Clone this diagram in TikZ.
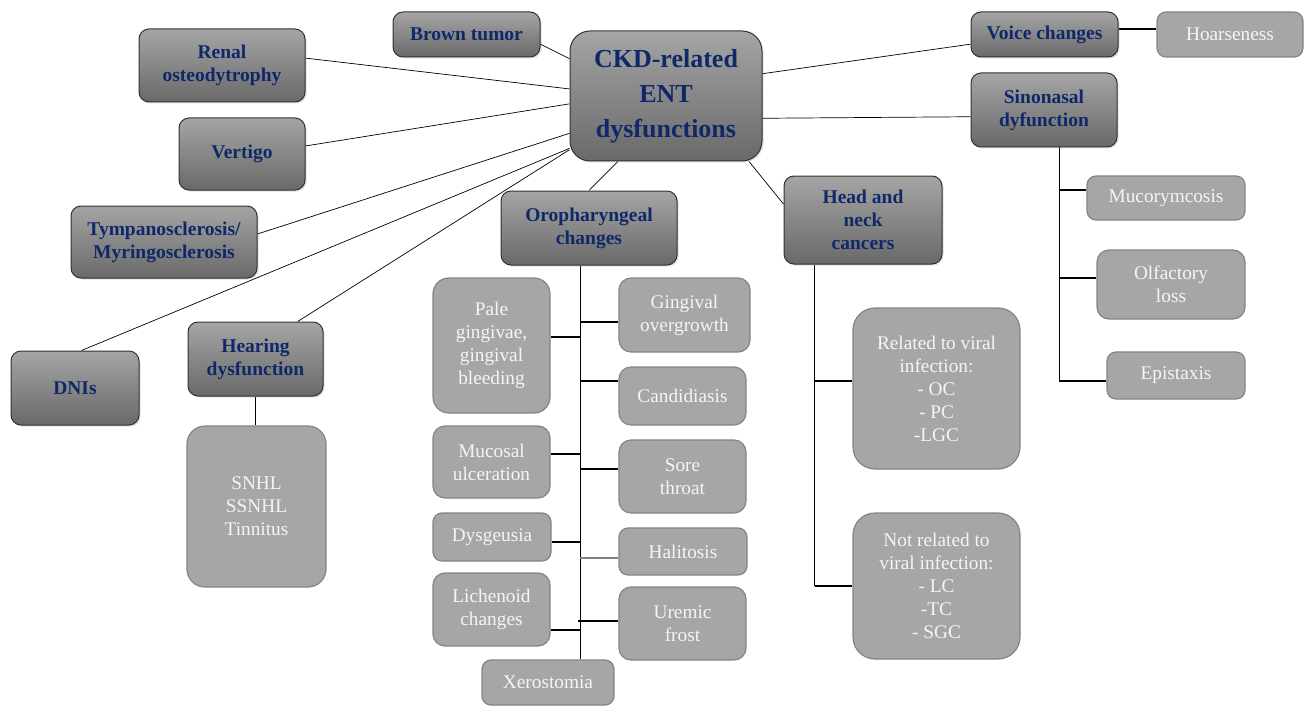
\documentclass[tikz,border=0pt]{standalone}
\usepackage{fontspec}
\setmainfont{Liberation Serif}
\usetikzlibrary{calc,backgrounds,shadows}
\definecolor{navy}{RGB}{15,40,105}
\definecolor{dborder}{RGB}{50,50,50}
\definecolor{dtop}{RGB}{165,165,165}
\definecolor{dbot}{RGB}{105,105,105}
\definecolor{lfill}{RGB}{166,166,166}
\definecolor{lborder}{RGB}{132,132,132}
\definecolor{ltext}{RGB}{245,245,245}
\begin{document}
\begin{tikzpicture}[x=1pt,y=-1pt,
 dbox/.style={draw=dborder, line width=1pt, rounded corners=10pt, top color=dtop, bottom color=dbot,
   text=navy, font=\fontsize{19.5}{23}\selectfont\bfseries, align=center, inner sep=0pt,
   drop shadow={opacity=0.25, shadow xshift=1.5pt, shadow yshift=-1.5pt}},
 lbox/.style={draw=lborder, line width=1.2pt, rounded corners=12pt, fill=lfill, text=ltext,
   font=\fontsize{19.3}{23}\selectfont, align=center, inner sep=0pt},
 ray/.style={draw=black, line width=0.7pt},
 tree/.style={draw=black, line width=1.1pt},
 sz/.style 2 args={minimum width=#1pt, minimum height=#2pt}]
\useasboundingbox (0,0) rectangle (1304,706);

% dark boxes
\node[dbox, sz={192}{130}, rounded corners=20pt, font=\fontsize{26}{35}\selectfont\bfseries] (center) at (666,96) {CKD-related\\ENT\\dysfunctions};
\node[dbox, sz={147}{45}] (brown) at (466.5,34.5) {Brown tumor};
\node[dbox, sz={166}{73}] (renal) at (222,65.5) {Renal\\osteodytrophy};
\node[dbox, sz={126}{72}] (vertigo) at (242,154) {Vertigo};
\node[dbox, sz={186}{72}] (tympano) at (164,242) {Tympanosclerosis/\\Myringosclerosis};
\node[dbox, sz={128}{74}] (dnis) at (75,388) {DNIs};
\node[dbox, sz={135}{74}] (hearing) at (255.5,359) {Hearing\\dysfunction};
\node[dbox, sz={176}{74}] (oro) at (589,228) {Oropharyngeal\\changes};
\node[dbox, sz={158}{88}] (head) at (863,220) {Head and\\neck\\cancers};
\node[dbox, sz={147}{45}] (voice) at (1044.5,34.5) {Voice changes};
\node[dbox, sz={146}{74}] (sinonasal) at (1044,110) {Sinonasal\\dyfunction};

% light boxes
\node[lbox, sz={139}{161}, rounded corners=18pt] (snhl) at (256.5,506.5) {SNHL\\SSNHL\\Tinnitus};
\node[lbox, sz={117}{135}, rounded corners=16pt] (pale) at (491.5,345.5) {Pale\\gingivae,\\gingival\\bleeding};
\node[lbox, sz={131}{74}] (gingov) at (684.5,315) {Gingival\\overgrowth};
\node[lbox, sz={127}{58}] (candid) at (682.5,396) {Candidiasis};
\node[lbox, sz={117}{72}] (mucosal) at (491.5,462) {Mucosal\\ulceration};
\node[lbox, sz={127}{73}] (sore) at (682.5,476.5) {Sore\\throat};
\node[lbox, sz={118}{48}, rounded corners=9pt] (dysg) at (492,537) {Dysgeusia};
\node[lbox, sz={128}{47}, rounded corners=9pt] (halit) at (683,551.5) {Halitosis};
\node[lbox, sz={117}{73}] (lichen) at (491.5,609.5) {Lichenoid\\changes};
\node[lbox, sz={127}{73}] (uremic) at (682.5,623.5) {Uremic\\frost};
\node[lbox, sz={132}{45}, rounded corners=9pt] (xero) at (548,682.5) {Xerostomia};
\node[lbox, sz={167}{161}, rounded corners=22pt] (related) at (936.5,388.5) {Related to viral\\infection:\\- OC\\- PC\\-LGC};
\node[lbox, sz={167}{146}, rounded corners=22pt] (notrel) at (936.5,586) {Not related to\\viral infection:\\- LC\\-TC\\- SGC};
\node[lbox, sz={146}{45}, rounded corners=9pt] (hoarse) at (1230,34.5) {Hoarseness};
\node[lbox, sz={158}{44}, rounded corners=9pt] (mucor) at (1166,198) {Mucorymcosis};
\node[lbox, sz={148}{69}] (olf) at (1171,284.5) {Olfactory\\loss};
\node[lbox, sz={138}{47}, rounded corners=9pt] (epist) at (1176,375.5) {Epistaxis};

\begin{scope}[on background layer]
% radial connectors
\draw[ray] ($(brown.north east)!0.71!(brown.south east)$) -- ($(center.north west)!0.215!(center.south west)$);
\draw[ray] ($(renal.north east)!0.4!(renal.south east)$) -- ($(center.north west)!0.446!(center.south west)$);
\draw[ray] ($(vertigo.north east)!0.39!(vertigo.south east)$) -- ($(center.north west)!0.56!(center.south west)$);
\draw[ray] ($(tympano.north east)!0.39!(tympano.south east)$) -- ($(center.north west)!0.785!(center.south west)$);
\draw[ray] ($(dnis.north west)!0.55!(dnis.north east)$) -- ($(center.north west)!0.9!(center.south west)$);
\draw[ray] ($(hearing.north west)!0.81!(hearing.north east)$) -- ($(center.north west)!0.91!(center.south west)$);
\draw[ray] (oro.north) -- ($(center.south west)!0.25!(center.south east)$);
\draw[ray] ($(head.north west)!0.32!(head.south west)$) -- ($(center.south west)!0.93!(center.south east)$);
\draw[ray] ($(center.north east)!0.33!(center.south east)$) -- ($(voice.north west)!0.71!(voice.south west)$);
\draw[ray] ($(center.north east)!0.67!(center.south east)$) -- ($(sinonasal.north west)!0.59!(sinonasal.south west)$);

% voice -> hoarseness
\coordinate (vo) at ([yshift=5.5pt]voice.east);
\draw[tree] (vo) -- (vo -| hoarse.west);

% hearing -> snhl
\draw[tree] (hearing.south) -- (hearing.south |- snhl.north);

% oropharyngeal tree
\coordinate (ot) at ($(oro.south west)!0.45!(oro.south east)$);
\draw[tree] (ot) -- (ot |- xero.north);
\coordinate (pa) at ([yshift=8.5pt]pale.east);     \draw[tree] (pa) -- (pa -| ot);
\coordinate (gi) at ([yshift=-7pt]gingov.west);    \draw[tree] (gi) -- (gi -| ot);
\coordinate (ca) at ([yshift=15pt]candid.west);    \draw[tree] (ca) -- (ca -| ot);
\coordinate (mu) at ([yshift=8pt]mucosal.east);    \draw[tree] (mu) -- (mu -| ot);
\coordinate (so) at ([yshift=7.5pt]sore.west);     \draw[tree] (so) -- (so -| ot);
\coordinate (dy) at ([yshift=-5pt]dysg.east);      \draw[tree] (dy) -- (dy -| ot);
\coordinate (ha) at ([yshift=-6.5pt]halit.west);   \draw[tree, draw=gray] (ha) -- (ha -| ot);
\coordinate (li) at ([yshift=-20.5pt]lichen.east); \draw[tree] (li) -- (li -| ot);
\coordinate (ur) at ([yshift=2.5pt]uremic.west);   \draw[tree] (ur) -- ([xshift=-2pt]ur -| ot);

% head and neck tree
\coordinate (ht) at ($(head.south west)!0.196!(head.south east)$);
\draw[tree] (ht) -- (ht |- notrel.west);
\coordinate (re) at ([yshift=7.5pt]related.west);  \draw[tree] (re) -- (re -| ht);
\draw[tree] (notrel.west) -- (notrel.west -| ht);

% sinonasal tree
\coordinate (st) at ($(sinonasal.south west)!0.603!(sinonasal.south east)$);
\coordinate (ep) at ([yshift=-5.5pt]epist.west);
\draw[tree] (st) -- (st |- ep);
\coordinate (mc) at ([yshift=8pt]mucor.west);      \draw[tree] (mc) -- (mc -| st);
\coordinate (ol) at ([yshift=6.5pt]olf.west);      \draw[tree] (ol) -- (ol -| st);
\draw[tree] (ep) -- (ep -| st);
\end{scope}
\end{tikzpicture}
\end{document}
